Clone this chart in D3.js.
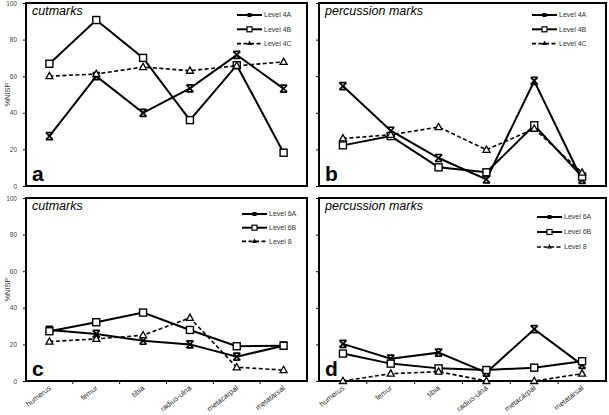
<!DOCTYPE html>
<html lang="en">
<head>
  <meta charset="UTF-8">
  <title>NISP panels</title>
  <style>
    body { margin: 0; background: #fff; }
    svg { display: block; font-family: "Liberation Sans", Arial, sans-serif; }
  </style>
</head>
<body>
  <script src="https://d3js.org/d3.v7.min.js"></script>
  <script>
    'use strict';

    const bones = ['humerus', 'femur', 'tibia', 'radius-ulna', 'metacarpal', 'metatarsal'];
    const yTicks = [0, 20, 40, 60, 80, 100];

    // panel a - cutmarks, upper levels
    const cut4A = [27.3, 60, 40, 53.4, 71.6, 53.2];
    const cut4B = [66.8, 90.7, 70, 36, 66, 18.2];
    const cut4C = [60, 61.2, 65, 63, 65.7, 67.8];
    // panel b - percussion marks, upper levels
    const perc4A = [54.6, 30.2, 15.3, 3.6, 57.4, 3.3];
    const perc4B = [22.2, 27.3, 10.2, 7.5, 33.2, 5.1];
    const perc4C = [26, 28, 32.2, 19.8, 31.3, 7.3];
    // panel c - cutmarks, lower levels
    const cut6A = [27.9, 25.7, 22, 20, 13.3, 19.3];
    const cut6B = [27.2, 32.1, 37.4, 27.9, 19, 19.3];
    const cut8 = [21.5, 23, 25, 34.5, 7.5, 6];
    // panel d - percussion marks, lower levels
    const perc6A = [20.3, 12.2, 15.5, 4.6, 28.3, 8.8];
    const perc6B = [15, 9.5, 6.9, 6, 7.3, 10.8];
    const perc8 = [0, 4, 5.1, 0, 0, 4];

    const W = 609, H = 415;

    const panels = [
      { x0: 26, x1: 307, y0: 3, y1: 186, title: 'cutmarks', letter: 'a', yLabels: true, xLabels: false,
        names: ['Level 4A', 'Level 4B', 'Level 4C'], series: [cut4A, cut4B, cut4C], legX: 237, legY: 15, legGap: 14.3 },
      { x0: 319, x1: 606, y0: 3, y1: 186, title: 'percussion marks', letter: 'b', yLabels: false, xLabels: false,
        names: ['Level 4A', 'Level 4B', 'Level 4C'], series: [perc4A, perc4B, perc4C], legX: 532, legY: 15, legGap: 14.3 },
      { x0: 26, x1: 307, y0: 198, y1: 381, title: 'cutmarks', letter: 'c', yLabels: true, xLabels: true,
        names: ['Level 6A', 'Level 6B', 'Level 8'], series: [cut6A, cut6B, cut8], legX: 242, legY: 214, legGap: 13.7 },
      { x0: 319, x1: 606, y0: 198, y1: 381, title: 'percussion marks', letter: 'd', yLabels: false, xLabels: true,
        names: ['Level 6A', 'Level 6B', 'Level 8'], series: [perc6A, perc6B, perc8], legX: 537, legY: 217, legGap: 15 }
    ];

    const styles = [
      { marker: 'star', dash: null, width: 2 },
      { marker: 'square', dash: null, width: 2 },
      { marker: 'triangle', dash: '4,2.5', width: 1.6 }
    ];

    const svg = d3.select('body').append('svg')
      .attr('width', W)
      .attr('height', H);

    function drawMarker(g, type, x, y, s) {
      if (type === 'square') {
        g.append('rect')
          .attr('x', x - s / 2).attr('y', y - s / 2)
          .attr('width', s).attr('height', s)
          .attr('fill', '#fff').attr('stroke', '#000').attr('stroke-width', 1.4);
      } else if (type === 'triangle') {
        const h = s * 0.9;
        g.append('path')
          .attr('d', `M${x},${y - h * 0.6}L${x + s / 2},${y + h * 0.4}L${x - s / 2},${y + h * 0.4}Z`)
          .attr('fill', '#fff').attr('stroke', '#000').attr('stroke-width', 1.3);
      } else {
        const r = s / 2;
        g.append('path')
          .attr('d', `M${x - r},${y - r}L${x + r},${y + r}M${x + r},${y - r}L${x - r},${y + r}` +
            `M${x - r},${y - r}L${x + r},${y - r}M${x - r},${y + r}L${x + r},${y + r}`)
          .attr('fill', 'none').attr('stroke', '#000').attr('stroke-width', 1.7);
      }
    }

    panels.forEach(p => {
      const g = svg.append('g');

      const x = d3.scaleBand().domain(bones).range([p.x0, p.x1]);
      const y = d3.scaleLinear().domain([0, 100]).range([p.y1, p.y0]);
      const cx = d => x(d) + x.bandwidth() / 2;

      // y axis
      const yAxis = d3.axisLeft(y).tickValues(yTicks).tickSize(3)
        .tickFormat(p.yLabels ? d3.format('d') : '');
      const ya = g.append('g')
        .attr('transform', `translate(${p.x0},0)`)
        .call(yAxis);
      ya.select('.domain').remove();
      ya.selectAll('line').attr('stroke', '#000').attr('stroke-width', 1);
      ya.selectAll('text').attr('font-size', 6.5).attr('fill', '#444').attr('dx', -3);

      if (p.xLabels) {
        const xa = g.append('g')
          .attr('transform', `translate(0,${p.y1})`);
        // tick marks sit on band boundaries
        xa.selectAll('line.bnd')
          .data(bones.slice(1)).enter()
          .append('line')
          .attr('class', 'bnd')
          .attr('x1', d => x(d)).attr('x2', d => x(d))
          .attr('y1', 0).attr('y2', 3)
          .attr('stroke', '#000');
        xa.selectAll('text.lbl')
          .data(bones).enter()
          .append('text')
          .attr('class', 'lbl')
          .attr('transform', d => `translate(${cx(d) + 2},8) rotate(-38)`)
          .attr('text-anchor', 'end')
          .attr('font-size', 7.5)
          .attr('fill', '#333')
          .text(d => d);
      }

      // frame
      g.append('rect')
        .attr('x', p.x0).attr('y', p.y0)
        .attr('width', p.x1 - p.x0).attr('height', p.y1 - p.y0)
        .attr('fill', 'none').attr('stroke', '#000').attr('stroke-width', 2);

      if (p.yLabels) {
        g.append('text')
          .attr('transform', `translate(10,${(p.y0 + p.y1) / 2}) rotate(-90)`)
          .attr('text-anchor', 'middle')
          .attr('font-size', 7.5)
          .attr('fill', '#333')
          .text('%NISP');
      }

      // series
      const line = d3.line()
        .x((d, i) => cx(bones[i]))
        .y(d => y(d));

      p.series.forEach((vals, si) => {
        const st = styles[si];
        g.append('path')
          .datum(vals)
          .attr('d', line)
          .attr('fill', 'none')
          .attr('stroke', '#000')
          .attr('stroke-width', st.width)
          .attr('stroke-dasharray', st.dash);
      });
      p.series.forEach((vals, si) => {
        vals.forEach((v, i) => {
          drawMarker(g, styles[si].marker, cx(bones[i]), y(v), 7);
        });
      });

      // title + letter
      g.append('text')
        .attr('x', p.x0 + 6).attr('y', p.y0 + 12)
        .attr('font-size', 12.5).attr('font-style', 'italic')
        .text(p.title);
      g.append('text')
        .attr('x', p.x0 + 6).attr('y', p.y1 - 5)
        .attr('font-size', 21).attr('font-weight', 'bold')
        .text(p.letter);

      // legend
      p.names.forEach((name, i) => {
        const ly = p.legY + i * p.legGap;
        const st = styles[i];
        g.append('line')
          .attr('x1', p.legX).attr('x2', p.legX + 25)
          .attr('y1', ly).attr('y2', ly)
          .attr('stroke', '#000').attr('stroke-width', st.width)
          .attr('stroke-dasharray', st.dash);
        const mx = p.legX + 12.5;
        if (st.marker === 'square') {
          g.append('rect').attr('x', mx - 2.5).attr('y', ly - 2.5).attr('width', 5).attr('height', 5)
            .attr('fill', '#fff').attr('stroke', '#000').attr('stroke-width', 1.2);
        } else if (st.marker === 'triangle') {
          g.append('path').attr('d', `M${mx},${ly - 3}L${mx + 2.5},${ly + 1.5}L${mx - 2.5},${ly + 1.5}Z`).attr('fill', '#000');
        } else {
          g.append('rect').attr('x', mx - 2).attr('y', ly - 2).attr('width', 4).attr('height', 4).attr('fill', '#000');
        }
        g.append('text')
          .attr('x', p.legX + 27).attr('y', ly + 2.4)
          .attr('font-size', 7).attr('fill', '#333')
          .text(name);
      });
    });
  </script>
</body>
</html>
